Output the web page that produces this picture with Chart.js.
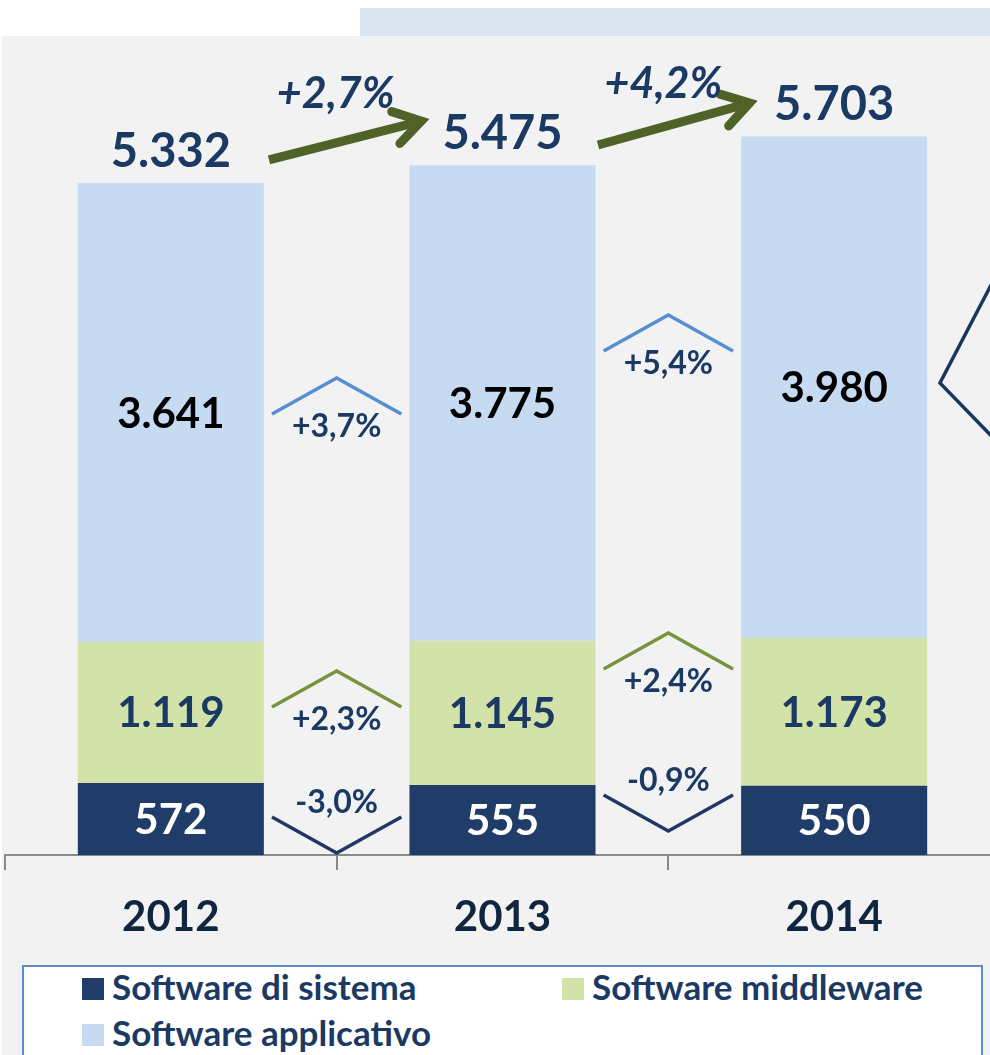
<!DOCTYPE html>
<html><head><meta charset="utf-8">
<script src="https://cdn.jsdelivr.net/npm/chart.js@4"></script>
<style>
html,body{margin:0;padding:0;background:#fff;overflow:hidden;width:990px;height:1055px;}
#bg{position:absolute;left:2px;top:36px;width:988px;height:1019px;background:#f2f2f2;}
#banner{position:absolute;left:360px;top:8px;width:630px;height:28px;background:#dce6f2;}
#wrap{position:absolute;left:0;top:0;width:990px;height:1055px;overflow:hidden;}
#c{position:absolute;left:0;top:0;}
#legend{position:absolute;left:22px;top:965px;width:961px;height:100px;background:#fff;border:2px solid #5b8dcc;box-sizing:border-box;font-family:Lato,sans-serif;font-weight:bold;font-size:35px;color:#1b3a63;}
.item{position:absolute;height:22px;line-height:22px;white-space:nowrap;}
.sw{position:absolute;left:0;top:0;width:22px;height:22px;}
.tx{position:absolute;left:30px;top:-3px;}
</style>
</head><body>
<div id="bg"></div>
<div id="banner"></div>
<div id="wrap"><canvas id="c" width="1000" height="1055" style="width:1000px;height:1055px"></canvas></div>
<div id="legend"></div>
<script>
const years = ['2012', '2013', '2014'];
const sistema = [572, 555, 550];
const middleware = [1119, 1145, 1173];
const applicativo = [3641, 3775, 3980];
const totals = [5332, 5475, 5703];
const totalGrowth = ['+2,7%', '+4,2%'];
const applicativoGrowth = ['+3,7%', '+5,4%'];
const middlewareGrowth = ['+2,3%', '+2,4%'];
const sistemaGrowth = ['-3,0%', '-0,9%'];
const seriesNames = ['Software di sistema', 'Software middleware', 'Software applicativo'];
const seriesColors = ['#1f3d68', '#d2e2a8', '#c6daf1'];

function fmt(n){ return String(n).replace(/\B(?=(\d{3})+(?!\d))/g, '.'); }

const NAVY = '#1b3a63';
const FONT = 'Lato, sans-serif';

// legend (HTML)
(function(){
  const lg = document.getElementById('legend');
  const pos = [[58,11],[538,11],[58,57]];
  seriesNames.forEach((n,i)=>{
    const d = document.createElement('div');
    d.className='item';
    d.style.left = pos[i][0]+'px'; d.style.top = pos[i][1]+'px';
    d.innerHTML = '<div class="sw" style="background:'+seriesColors[i]+'"></div><div class="tx">'+n+'</div>';
    lg.appendChild(d);
  });
})();

const annot = {
  id: 'annot',
  afterDatasetsDraw(chart){
    const ctx = chart.ctx;
    const xs = chart.scales.x, ys = chart.scales.y;
    ctx.save();
    // labels inside segments
    const segColors = ['#ffffff', NAVY, '#000000'];
    chart.data.datasets.forEach((ds, di)=>{
      const meta = chart.getDatasetMeta(di);
      meta.data.forEach((el, j)=>{
        const cy = (el.y + el.base)/2;
        ctx.font = 'bold 42px ' + FONT;
        ctx.fillStyle = segColors[di];
        ctx.textAlign = 'center';
        ctx.textBaseline = 'alphabetic';
        ctx.fillText(fmt(ds.data[j]), el.x, cy + 15);
      });
    });
    // totals
    const top = chart.getDatasetMeta(2);
    top.data.forEach((el, j)=>{
      ctx.font = 'bold 47px ' + FONT;
      ctx.fillStyle = NAVY;
      ctx.textAlign = 'center';
      ctx.textBaseline = 'alphabetic';
      ctx.fillText(fmt(totals[j]), el.x, el.y - 16);
    });
    // chevrons
    const chevrons = [
      {g: applicativoGrowth, apex: [3786, 4286], color: '#558ed5', up: true},
      {g: middlewareGrowth, apex: [1460, 1762], color: '#77933c', up: true},
      {g: sistemaGrowth, apex: [16, 190], color: '#1f3864', up: false}
    ];
    const catW = xs.getPixelForValue(1) - xs.getPixelForValue(0);
    chevrons.forEach(c=>{
      c.g.forEach((txt, i)=>{
        const cx = xs.getPixelForValue(i + 0.5);
        const ay = ys.getPixelForValue(c.apex[i]);
        const hw = 0.195 * catW;
        const dy = c.up ? 36 : -36;
        ctx.beginPath();
        ctx.moveTo(cx - hw, ay + dy);
        ctx.lineTo(cx, ay);
        ctx.lineTo(cx + hw, ay + dy);
        ctx.strokeStyle = c.color;
        ctx.lineWidth = 3.5;
        ctx.lineJoin = 'miter';
        ctx.lineCap = 'butt';
        ctx.stroke();
        ctx.font = 'bold 32px ' + FONT;
        ctx.fillStyle = NAVY;
        ctx.textAlign = 'center';
        ctx.textBaseline = 'alphabetic';
        const ly = c.up ? ay + 48 : ay - 51;
        ctx.fillText(txt, cx, ly + 11);
      });
    });
    // total growth arrows
    const arrows = [
      {x0: 0.296, v0: 5516, x1: 0.755, v1: 5825, lx: 0.497, lv: 6050},
      {x0: 1.288, v0: 5635, x1: 1.745, v1: 5968, lx: 1.485, lv: 6130}
    ];
    arrows.forEach((a, i)=>{
      const x0 = xs.getPixelForValue(a.x0), y0 = ys.getPixelForValue(a.v0);
      const x1 = xs.getPixelForValue(a.x1), y1 = ys.getPixelForValue(a.v1);
      const ang = Math.atan2(y1 - y0, x1 - x0);
      ctx.strokeStyle = '#4f6228';
      ctx.lineWidth = 9;
      ctx.lineCap = 'butt';
      ctx.beginPath();
      ctx.moveTo(x0, y0);
      ctx.lineTo(x1 - 4*Math.cos(ang), y1 - 4*Math.sin(ang));
      ctx.stroke();
      const L = 31, sp = 0.56;
      ctx.beginPath();
      ctx.moveTo(x1 - L*Math.cos(ang - sp), y1 - L*Math.sin(ang - sp));
      ctx.lineTo(x1, y1);
      ctx.lineTo(x1 - L*Math.cos(ang + sp), y1 - L*Math.sin(ang + sp));
      ctx.lineCap = 'round';
      ctx.lineJoin = 'miter';
      ctx.stroke();
      ctx.font = 'italic bold 43px ' + FONT;
      ctx.fillStyle = NAVY;
      ctx.textAlign = 'center';
      ctx.textBaseline = 'alphabetic';
      ctx.fillText(totalGrowth[i], xs.getPixelForValue(a.lx), ys.getPixelForValue(a.lv) + 15);
    });
    // callout edge on the right
    ctx.beginPath();
    ctx.moveTo(xs.getPixelForValue(2.48), ys.getPixelForValue(4560));
    ctx.lineTo(xs.getPixelForValue(2.319), ys.getPixelForValue(3746));
    ctx.lineTo(xs.getPixelForValue(2.48), ys.getPixelForValue(3310));
    ctx.strokeStyle = '#17375e';
    ctx.lineWidth = 3.5;
    ctx.lineJoin = 'miter';
    ctx.stroke();
    ctx.restore();
  }
};

new Chart(document.getElementById('c'), {
  type: 'bar',
  data: {
    labels: years,
    datasets: [
      {label: seriesNames[0], data: sistema, backgroundColor: seriesColors[0]},
      {label: seriesNames[1], data: middleware, backgroundColor: seriesColors[1]},
      {label: seriesNames[2], data: applicativo, backgroundColor: seriesColors[2]}
    ]
  },
  options: {
    responsive: false,
    animation: false,
    events: [],
    layout: {padding: {top: 36, left: 5, right: 0, bottom: 90.6}},
    datasets: {bar: {categoryPercentage: 1, barPercentage: 0.561, borderWidth: 0}},
    plugins: {legend: {display: false}, tooltip: {enabled: false}, title: {display: false}},
    scales: {
      x: {
        stacked: true,
        grid: {display: true, drawOnChartArea: false, drawTicks: true, tickLength: 15, color: '#898989', lineWidth: 2, offset: true},
        border: {display: true, color: '#898989', width: 2},
        ticks: {color: '#10253f', font: {family: FONT, weight: 'bold', size: 42}, padding: 22}
      },
      y: {stacked: true, display: false, min: 0, max: 6500}
    }
  },
  plugins: [annot]
});
</script>
</body></html>
